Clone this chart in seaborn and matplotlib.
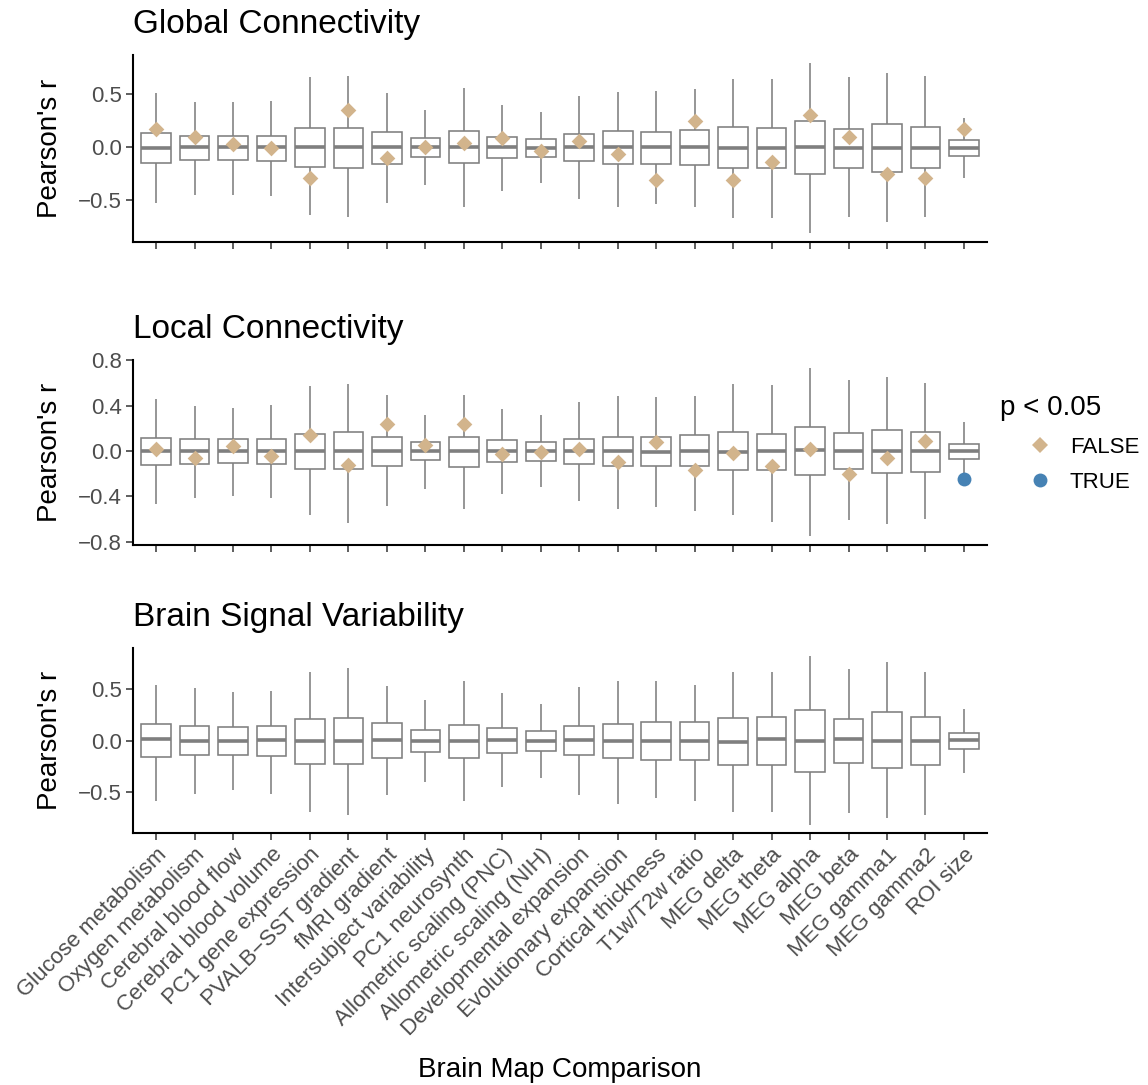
import numpy as np
import pandas as pd
import matplotlib
matplotlib.use("Agg")
import matplotlib.pyplot as plt
from matplotlib.lines import Line2D
import seaborn as sns

categories = ["Glucose metabolism", "Oxygen metabolism", "Cerebral blood flow",
              "Cerebral blood volume", "PC1 gene expression", "PVALB\u2212SST gradient",
              "fMRI gradient", "Intersubject variability", "PC1 neurosynth",
              "Allometric scaling (PNC)", "Allometric scaling (NIH)",
              "Developmental expansion", "Evolutionary expansion", "Cortical thickness",
              "T1w/T2w ratio", "MEG delta", "MEG theta", "MEG alpha", "MEG beta",
              "MEG gamma1", "MEG gamma2", "ROI size"]

# Global connectivity: null distribution summaries + observed
g_lo = [-0.53, -0.45, -0.45, -0.46, -0.64, -0.66, -0.53, -0.36, -0.56, -0.41, -0.34,
        -0.49, -0.56, -0.54, -0.56, -0.67, -0.67, -0.81, -0.66, -0.71, -0.66, -0.29]
g_q1 = [-0.15, -0.12, -0.12, -0.13, -0.19, -0.195, -0.16, -0.09, -0.15, -0.10, -0.09,
        -0.13, -0.155, -0.155, -0.165, -0.20, -0.20, -0.25, -0.195, -0.235, -0.20, -0.08]
g_med = [-0.005, 0.0, 0.0, 0.0, 0.0, 0.0, 0.0, 0.0, 0.0, 0.0, -0.005,
         0.0, 0.0, 0.003, 0.0, -0.005, -0.01, 0.005, -0.01, -0.01, -0.003, -0.003]
g_q3 = [0.13, 0.11, 0.11, 0.11, 0.18, 0.18, 0.14, 0.085, 0.15, 0.10, 0.08,
        0.12, 0.15, 0.145, 0.16, 0.19, 0.185, 0.245, 0.175, 0.215, 0.195, 0.07]
g_hi = [0.51, 0.43, 0.43, 0.44, 0.66, 0.67, 0.51, 0.35, 0.56, 0.40, 0.33,
        0.48, 0.52, 0.53, 0.55, 0.64, 0.645, 0.79, 0.66, 0.70, 0.675, 0.28]
g_obs = [0.17, 0.10, 0.03, -0.01, -0.29, 0.35, -0.10, 0.00, 0.04, 0.09, -0.04,
         0.06, -0.06, -0.305, 0.245, -0.305, -0.14, 0.30, 0.095, -0.25, -0.29, 0.17]
g_sig = [False] * 22

# Local connectivity
l_lo = [-0.47, -0.41, -0.40, -0.415, -0.56, -0.635, -0.48, -0.33, -0.51, -0.38, -0.32,
        -0.44, -0.51, -0.495, -0.53, -0.56, -0.625, -0.75, -0.61, -0.64, -0.60, -0.21]
l_q1 = [-0.126, -0.11, -0.105, -0.11, -0.16, -0.16, -0.13, -0.08, -0.14, -0.10, -0.085,
        -0.115, -0.135, -0.135, -0.135, -0.17, -0.165, -0.215, -0.16, -0.19, -0.18, -0.07]
l_med = [0.0, 0.0, 0.0, 0.005, 0.0, 0.005, 0.0, 0.003, 0.0, 0.003, 0.0,
         0.0, -0.003, -0.005, 0.003, -0.005, -0.003, 0.01, 0.0, 0.0, 0.0, 0.0]
l_q3 = [0.12, 0.105, 0.105, 0.105, 0.15, 0.165, 0.125, 0.08, 0.125, 0.10, 0.08,
        0.11, 0.125, 0.125, 0.14, 0.165, 0.155, 0.21, 0.16, 0.19, 0.165, 0.065]
l_hi = [0.46, 0.40, 0.38, 0.41, 0.575, 0.595, 0.495, 0.32, 0.495, 0.37, 0.32,
        0.43, 0.49, 0.475, 0.49, 0.595, 0.585, 0.73, 0.63, 0.655, 0.60, 0.26]
l_obs = [0.015, -0.06, 0.045, -0.04, 0.145, -0.125, 0.24, 0.05, 0.24, -0.025, -0.01,
         0.02, -0.10, 0.08, -0.17, -0.02, -0.135, 0.02, -0.20, -0.065, 0.085, -0.245]
l_sig = [False] * 21 + [True]

# Brain signal variability (no observed points)
b_lo = [-0.59, -0.52, -0.475, -0.52, -0.69, -0.72, -0.53, -0.40, -0.59, -0.445, -0.365,
        -0.53, -0.61, -0.56, -0.59, -0.69, -0.69, -0.815, -0.705, -0.755, -0.72, -0.315]
b_q1 = [-0.16, -0.14, -0.135, -0.145, -0.23, -0.225, -0.17, -0.11, -0.165, -0.12, -0.10,
        -0.14, -0.17, -0.185, -0.185, -0.235, -0.235, -0.305, -0.215, -0.265, -0.24, -0.08]
b_med = [0.015, 0.0, 0.0, 0.005, 0.0, 0.0, 0.01, 0.0, 0.0, 0.003, 0.0,
         0.01, 0.0, 0.0, 0.0, -0.01, 0.015, 0.0, 0.02, 0.0, -0.003, 0.003]
b_q3 = [0.16, 0.14, 0.13, 0.145, 0.215, 0.22, 0.17, 0.10, 0.155, 0.12, 0.09,
        0.14, 0.165, 0.18, 0.185, 0.225, 0.235, 0.295, 0.215, 0.275, 0.235, 0.08]
b_hi = [0.545, 0.51, 0.47, 0.485, 0.67, 0.71, 0.53, 0.395, 0.58, 0.465, 0.36,
        0.52, 0.58, 0.58, 0.545, 0.665, 0.665, 0.82, 0.70, 0.77, 0.67, 0.31]

titles = ["Global Connectivity", "Local Connectivity", "Brain Signal Variability"]
yticks_list = [[-0.5, 0.0, 0.5], [-0.8, -0.4, 0.0, 0.4, 0.8], [-0.5, 0.0, 0.5]]
legend_title = "p < 0.05"
legend_labels = ["FALSE", "TRUE"]
xlab = "Brain Map Comparison"
ylab = "Pearson's r"

COL_FALSE = "#D2B48C"
COL_TRUE = "#4682B4"
BOXCOL = "#7F7F7F"

sns.set_style("white")
plt.rcParams["font.family"] = ["Liberation Sans", "DejaVu Sans"]

W, H = 1148, 1085
fig = plt.figure(figsize=(W / 100, H / 100), dpi=100)

left_px, right_px = 133, 987
panels_px = [(55, 241.5), (360, 544.5), (648, 833)]
axes = []
for (t, b) in panels_px:
    ax = fig.add_axes([left_px / W, 1 - b / H, (right_px - left_px) / W, (b - t) / H])
    axes.append(ax)


def long_df(lo, q1, med, q3, hi):
    rows = []
    for i, c in enumerate(categories):
        for v in (lo[i], q1[i], med[i], q3[i], hi[i]):
            rows.append((c, v))
    return pd.DataFrame(rows, columns=["map", "r"])


summaries = [(g_lo, g_q1, g_med, g_q3, g_hi),
             (l_lo, l_q1, l_med, l_q3, l_hi),
             (b_lo, b_q1, b_med, b_q3, b_hi)]
observed = [(g_obs, g_sig), (l_obs, l_sig), None]

for k, ax in enumerate(axes):
    lo, q1, med, q3, hi = summaries[k]
    df = long_df(lo, q1, med, q3, hi)
    sns.boxplot(data=df, x="map", y="r", order=categories, whis=(0, 100),
                width=0.77, color="white", linecolor=BOXCOL, linewidth=1.15,
                fliersize=0, medianprops=dict(linewidth=2.6, color=BOXCOL),
                capprops=dict(linewidth=0), ax=ax, zorder=2)
    if observed[k] is not None:
        obs, sig = observed[k]
        odf = pd.DataFrame({"map": categories, "r": obs, "sig": sig})
        f = odf[~odf["sig"]]
        t = odf[odf["sig"]]
        sns.stripplot(data=f, x="map", y="r", order=categories, jitter=False,
                      marker="D", size=8, color=COL_FALSE, linewidth=0, ax=ax, zorder=4)
        if len(t):
            sns.stripplot(data=t, x="map", y="r", order=categories, jitter=False,
                          marker="o", size=10, color=COL_TRUE, linewidth=0, ax=ax, zorder=4)
    lo_all, hi_all = min(lo), max(hi)
    if observed[k] is not None:
        lo_all = min(lo_all, min(observed[k][0]))
        hi_all = max(hi_all, max(observed[k][0]))
    pad = 0.05 * (hi_all - lo_all)
    ax.set_ylim(lo_all - pad, hi_all + pad)
    ax.set_xlim(-0.6, len(categories) - 0.4)
    ax.set_yticks(yticks_list[k])
    ax.set_yticklabels([f"{v:.1f}".replace("-", "\u2212") for v in yticks_list[k]])
    for s in ["top", "right"]:
        ax.spines[s].set_visible(False)
    for s in ["left", "bottom"]:
        ax.spines[s].set_color("black")
        ax.spines[s].set_linewidth(1.5)
    ax.tick_params(axis="both", which="major", length=5, width=1.1, color="#333333",
                   labelcolor="#4D4D4D", labelsize=16, pad=3, direction="out",
                   bottom=True, left=True)
    ax.set_title(titles[k], loc="left", fontsize=24, pad=16, color="black")
    ax.set_ylabel(ylab, fontsize=20, color="black")
    ax.yaxis.set_label_coords(-0.097, 0.5)
    ax.yaxis.label.set_va("center")
    ax.grid(False)
    ax.set_facecolor("white")
    if k < 2:
        ax.set_xticklabels([])
        ax.set_xlabel("")
    else:
        ax.set_xticks(range(len(categories)))
        ax.set_xticklabels(categories, rotation=45, ha="right", va="top",
                           rotation_mode="anchor", fontsize=16, color="#4D4D4D")
        ax.set_xlabel(xlab, fontsize=20, color="black")
        ax.xaxis.set_label_coords(0.5, (833 - 1070) / (833 - 648))
        ax.xaxis.label.set_va("center")

# legend (title drawn separately, keys indented as in ggplot)
fig.text(1000 / W, 1 - 415 / H, legend_title, fontsize=20, color="black",
         ha="left", va="baseline")
handles = [Line2D([0], [0], marker="D", linestyle="none", markersize=8,
                  markerfacecolor=COL_FALSE, markeredgewidth=0, label=legend_labels[0]),
           Line2D([0], [0], marker="o", linestyle="none", markersize=10,
                  markerfacecolor=COL_TRUE, markeredgewidth=0, label=legend_labels[1])]
leg = fig.legend(handles=handles, loc="upper left",
                 bbox_to_anchor=(1020 / W, 1 - 428 / H), frameon=False,
                 fontsize=16, handlelength=1.0, handletextpad=0.85,
                 labelspacing=0.63, borderaxespad=0)
for txt in leg.get_texts():
    txt.set_color("black")

fig.savefig("out.png", dpi=100, facecolor="white")
